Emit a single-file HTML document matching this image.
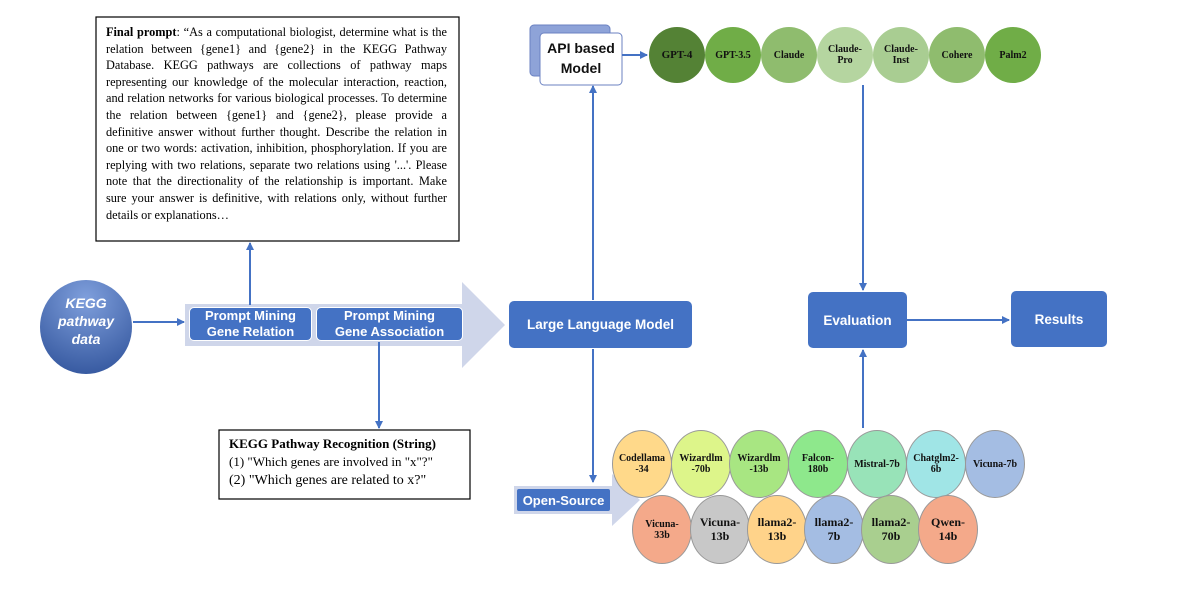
<!DOCTYPE html>
<html><head><meta charset="utf-8"><style>
body{margin:0;width:1185px;height:599px;background:#fff;position:relative;overflow:hidden;font-family:"Liberation Sans",sans-serif}
.a{position:absolute}
.pl{position:absolute;left:106px;width:341px;font:12.3px/16.6px "Liberation Serif",serif;color:#000;text-align:justify;text-align-last:justify;white-space:nowrap}
.pl.l{text-align-last:left}
.bx{position:absolute;display:flex;align-items:center;justify-content:center;text-align:center;color:#fff;font-weight:bold;background:#4472c4;border-radius:5px}
.c{position:absolute;border-radius:50%;display:flex;align-items:center;justify-content:center;text-align:center;font-family:"Liberation Serif",serif;font-weight:bold;color:#111;line-height:1.1}
</style></head><body>
<svg class="a" style="left:0;top:0" width="1185" height="599">
<defs>
<marker id="ar" markerWidth="8" markerHeight="8" refX="7" refY="4" orient="auto" markerUnits="userSpaceOnUse"><path d="M0,0 L8,4 L0,8 z" fill="#4472c4"/></marker>
<radialGradient id="kg" cx="0.5" cy="0.2" r="0.9"><stop offset="0" stop-color="#7f9fdc"/><stop offset="1" stop-color="#2f529a"/></radialGradient>
</defs>
<rect x="96" y="17" width="363" height="224" fill="#fff" stroke="#000" stroke-width="1.2"/>
<ellipse cx="86" cy="327" rx="46" ry="47" fill="url(#kg)"/>
<line x1="133" y1="322" x2="184" y2="322" stroke="#4472c4" stroke-width="2" marker-end="url(#ar)"/>
<rect x="185" y="304" width="278" height="42" fill="#cfd6ea"/>
<polygon points="462,282 505,325 462,368" fill="#cfd6ea"/>
<line x1="250" y1="305" x2="250" y2="243" stroke="#4472c4" stroke-width="2" marker-end="url(#ar)"/>
<line x1="379" y1="342" x2="379" y2="428" stroke="#4472c4" stroke-width="2" marker-end="url(#ar)"/>
<rect x="219" y="430" width="251" height="69" fill="#fff" stroke="#000" stroke-width="1.2"/>
<line x1="593" y1="300" x2="593" y2="86" stroke="#4472c4" stroke-width="2" marker-end="url(#ar)"/>
<line x1="593" y1="349" x2="593" y2="482" stroke="#4472c4" stroke-width="2" marker-end="url(#ar)"/>
<rect x="530" y="25" width="80" height="51" rx="4" fill="#8ea3d8" stroke="#6b82c2"/>
<rect x="540" y="33" width="82" height="52" rx="4" fill="#fff" stroke="#6b82c2"/>
<line x1="622" y1="55" x2="647" y2="55" stroke="#4472c4" stroke-width="2" marker-end="url(#ar)"/>
<line x1="863" y1="85" x2="863" y2="290" stroke="#4472c4" stroke-width="2" marker-end="url(#ar)"/>
<line x1="907" y1="320" x2="1009" y2="320" stroke="#4472c4" stroke-width="2" marker-end="url(#ar)"/>
<line x1="863" y1="428" x2="863" y2="350" stroke="#4472c4" stroke-width="2" marker-end="url(#ar)"/>
<rect x="514" y="486" width="99" height="28" fill="#cfd6ea"/>
<polygon points="612,474 640,500 612,526" fill="#cfd6ea"/>
</svg>
<div class="pl" style="top:24px"><b>Final prompt</b>: “As a computational biologist, determine what is the</div>
<div class="pl" style="top:40.6px">relation between {gene1} and {gene2} in the KEGG Pathway</div>
<div class="pl" style="top:57.2px">Database. KEGG pathways are collections of pathway maps</div>
<div class="pl" style="top:73.8px">representing our knowledge of the molecular interaction, reaction,</div>
<div class="pl" style="top:90.4px">and relation networks for various biological processes. To determine</div>
<div class="pl" style="top:107px">the relation between {gene1} and {gene2}, please provide a</div>
<div class="pl" style="top:123.6px">definitive answer without further thought. Describe the relation in</div>
<div class="pl" style="top:140.2px">one or two words: activation, inhibition, phosphorylation. If you are</div>
<div class="pl" style="top:156.8px">replying with two relations, separate two relations using '...'. Please</div>
<div class="pl" style="top:173.4px">note that the directionality of the relationship is important. Make</div>
<div class="pl" style="top:190px">sure your answer is definitive, with relations only, without further</div>
<div class="pl l" style="top:206.6px">details or explanations…</div>
<div class="a" style="left:40px;top:294px;width:92px;text-align:center;color:#fff;font-weight:bold;font-style:italic;font-size:14px;line-height:18px">KEGG<br>pathway<br>data</div>
<div class="bx" style="left:189px;top:307px;width:123px;height:34px;font-size:13px;line-height:16px;border:1.5px solid #fff;box-sizing:border-box">Prompt Mining<br>Gene Relation</div>
<div class="bx" style="left:316px;top:307px;width:147px;height:34px;font-size:13px;line-height:16px;border:1.5px solid #fff;box-sizing:border-box">Prompt Mining<br>Gene Association</div>
<div class="a" style="left:229px;top:435px;font:13px/18px 'Liberation Serif',serif"><b>KEGG Pathway Recognition (String)</b><br>(1) "Which genes are involved in "x"?"<br><span style="font-size:14px">(2) "Which genes are related to x?"</span></div>
<div class="bx" style="left:509px;top:301px;width:183px;height:47px;font-size:13.5px">Large Language Model</div>
<div class="a" style="left:540px;top:38px;width:82px;text-align:center;font-weight:bold;font-size:14px;line-height:20px;color:#111">API based<br>Model</div>
<div class="bx" style="left:808px;top:292px;width:99px;height:56px;font-size:13.5px">Evaluation</div>
<div class="bx" style="left:1011px;top:291px;width:96px;height:56px;font-size:13.5px">Results</div>
<div class="bx" style="left:517px;top:489px;width:93px;height:22px;font-size:13px;border-radius:2px">Open-Source</div>
<div class="c" style="left:649px;top:27px;width:56px;height:56px;background:#548235;font-size:11px">GPT-4</div>
<div class="c" style="left:705px;top:27px;width:56px;height:56px;background:#70ad47;font-size:10px">GPT-3.5</div>
<div class="c" style="left:761px;top:27px;width:56px;height:56px;background:#8fbc6e;font-size:10px">Claude</div>
<div class="c" style="left:817px;top:27px;width:56px;height:56px;background:#b5d5a0;font-size:10px">Claude-<br>Pro</div>
<div class="c" style="left:873px;top:27px;width:56px;height:56px;background:#a9cd92;font-size:10px">Claude-<br>Inst</div>
<div class="c" style="left:929px;top:27px;width:56px;height:56px;background:#8fbc6e;font-size:10px">Cohere</div>
<div class="c" style="left:985px;top:27px;width:56px;height:56px;background:#70ad47;font-size:10px">Palm2</div>
<div class="c" style="left:612px;top:430px;width:58px;height:66px;background:#ffd98a;border:1px solid #999;font-size:10px">Codellama<br>-34</div>
<div class="c" style="left:671px;top:430px;width:58px;height:66px;background:#ddf58a;border:1px solid #999;font-size:10px">Wizardlm<br>-70b</div>
<div class="c" style="left:729px;top:430px;width:58px;height:66px;background:#a8e682;border:1px solid #999;font-size:10px">Wizardlm<br>-13b</div>
<div class="c" style="left:788px;top:430px;width:58px;height:66px;background:#8ee88c;border:1px solid #999;font-size:10px">Falcon-<br>180b</div>
<div class="c" style="left:847px;top:430px;width:58px;height:66px;background:#98e3b8;border:1px solid #999;font-size:10px">Mistral-7b</div>
<div class="c" style="left:906px;top:430px;width:58px;height:66px;background:#a0e5e6;border:1px solid #999;font-size:10px">Chatglm2-<br>6b</div>
<div class="c" style="left:965px;top:430px;width:58px;height:66px;background:#a4bde3;border:1px solid #999;font-size:10px">Vicuna-7b</div>
<div class="c" style="left:632px;top:495px;width:58px;height:67px;background:#f4a98a;border:1px solid #999;font-size:10px">Vicuna-<br>33b</div>
<div class="c" style="left:690px;top:495px;width:58px;height:67px;background:#c8c8c8;border:1px solid #999;font-size:12px">Vicuna-<br>13b</div>
<div class="c" style="left:747px;top:495px;width:58px;height:67px;background:#ffd38a;border:1px solid #999;font-size:12px">llama2-<br>13b</div>
<div class="c" style="left:804px;top:495px;width:58px;height:67px;background:#a4bde3;border:1px solid #999;font-size:12px">llama2-<br>7b</div>
<div class="c" style="left:861px;top:495px;width:58px;height:67px;background:#a9cf8f;border:1px solid #999;font-size:12px">llama2-<br>70b</div>
<div class="c" style="left:918px;top:495px;width:58px;height:67px;background:#f4a98a;border:1px solid #999;font-size:12px">Qwen-<br>14b</div>
</body></html>
